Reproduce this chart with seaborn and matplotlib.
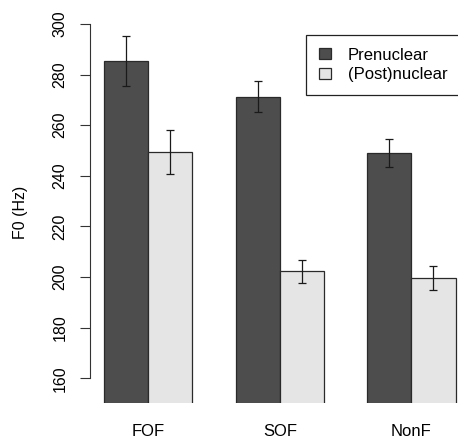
import matplotlib
matplotlib.use("Agg")
import matplotlib.pyplot as plt
import seaborn as sns
import pandas as pd
import numpy as np

categories = ["FOF", "SOF", "NonF"]
series = ["Prenuclear", "(Post)nuclear"]
prenuclear = [285.3, 271.3, 249.1]
postnuclear = [249.4, 202.3, 199.6]
prenuclear_err = [9.8, 6.2, 5.6]
postnuclear_err = [8.7, 4.6, 4.8]
yticks = [160, 180, 200, 220, 240, 260, 280, 300]
colors = ["#4d4d4d", "#e5e5e5"]

sns.set_theme(style="white")
plt.rcParams["font.family"] = ["Liberation Sans", "DejaVu Sans"]
plt.rcParams["text.color"] = "black"
plt.rcParams["axes.labelcolor"] = "black"
plt.rcParams["xtick.color"] = "black"
plt.rcParams["ytick.color"] = "black"

df = pd.DataFrame({
    "cat": categories * 2,
    "series": [series[0]] * 3 + [series[1]] * 3,
    "F0": prenuclear + postnuclear,
})

W, H = 458, 444
fig = plt.figure(figsize=(W / 100, H / 100), dpi=100)
top_px, bot_px = 24.0, 403.0
ax = fig.add_axes([90 / W, (H - bot_px) / H, (W - 90) / W, (bot_px - top_px) / H])

sns.barplot(data=df, x="cat", y="F0", hue="series", order=categories,
            hue_order=series, palette=dict(zip(series, colors)),
            width=0.672, errorbar=None, edgecolor="#2a2a2a", linewidth=0.9,
            ax=ax)

errs = [prenuclear_err, postnuclear_err]
vals = [prenuclear, postnuclear]
for cont, v, e in zip(ax.containers, vals, errs):
    xs = [p.get_x() + p.get_width() / 2 for p in cont.patches]
    ax.errorbar(xs, v, yerr=e, fmt="none", ecolor="#1a1a1a", elinewidth=0.9,
                capsize=3.2, capthick=0.9, zorder=5)

ax.set_xlim(-0.443, 2.355)
ax.set_ylim(150.2, 300)
ax.set_yticks(yticks)
ax.set_yticklabels([str(t) for t in yticks], rotation=90, va="center")
ax.tick_params(axis="y", length=7.2, width=0.8, color="#333333", pad=9,
               labelsize=11.5, left=True, labelcolor="black")
ax.tick_params(axis="x", length=0, pad=15, labelsize=12, labelcolor="black")
for s in ["top", "right", "bottom"]:
    ax.spines[s].set_visible(False)
ax.spines["left"].set_bounds(160, 300)
ax.spines["left"].set_linewidth(0.8)
ax.spines["left"].set_color("#333333")
ax.set_xlabel("")
ax.set_ylabel("")
fig.text(20 / W, 1 - 212 / H, "F0 (Hz)", rotation=90, ha="center", va="center",
         fontsize=11.5, color="black")

handles, labels = ax.get_legend_handles_labels()
leg = ax.legend(handles, labels, loc="upper left",
                bbox_to_anchor=(306 / W, 1 - 35 / H), bbox_transform=fig.transFigure,
                frameon=True, fancybox=False, fontsize=12, handlelength=0.75,
                handleheight=0.7, handletextpad=1.0, labelspacing=0.3,
                borderpad=0.75, borderaxespad=0)
leg.get_frame().set_edgecolor("#222222")
leg.get_frame().set_linewidth(0.9)
leg.get_frame().set_alpha(1)
for t in leg.get_texts():
    t.set_color("black")

fig.savefig("out.png", dpi=100)
